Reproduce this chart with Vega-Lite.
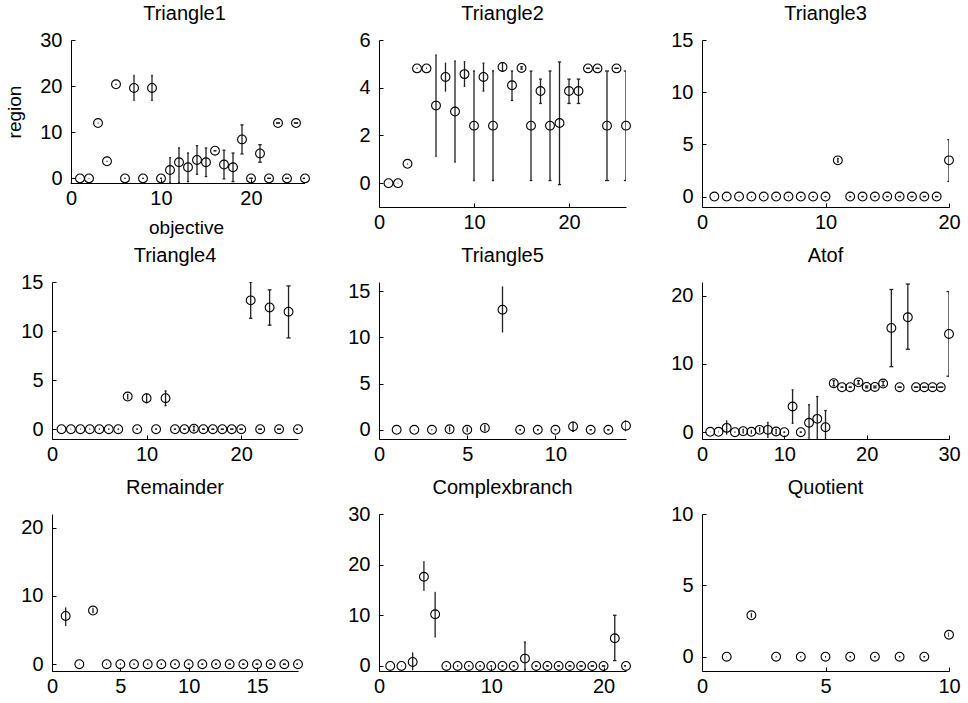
{
  "$schema": "https://vega.github.io/schema/vega-lite/v6.json",
  "padding": {"left": 5, "top": 4, "right": 2, "bottom": 2},
  "background": "white",
  "config": {
    "font": "Liberation Sans",
    "view": {"stroke": null},
    "axis": {"grid": false, "domainColor": "black", "domainWidth": 1, "tickColor": "black", "tickSize": -4, "tickWidth": 1,
             "labelFontSize": 20, "labelColor": "black", "labelFont": "Liberation Sans", "labelFlush": false, "labelOverlap": false,
             "titleFontSize": 19, "titleFontWeight": "normal", "titleColor": "black", "titleFont": "Liberation Sans"},
    "axisY": {"labelPadding": 13, "minExtent": 47, "maxExtent": 47},
    "axisX": {"labelPadding": 9, "minExtent": 30, "maxExtent": 30},
    "title": {"fontSize": 20, "fontWeight": "normal", "baseline": "alphabetic", "color": "black", "frame": "group", "font": "Liberation Sans"}
  },
  "datasets": {
    "t1": [
      {"x":1,"y":0,"lo":0,"hi":0},{"x":2,"y":0,"lo":0,"hi":0},{"x":3,"y":12,"lo":12,"hi":12},{"x":4,"y":3.7,"lo":3.7,"hi":3.7},
      {"x":5,"y":20.4,"lo":20.4,"hi":20.4},{"x":6,"y":0,"lo":0,"hi":0},{"x":7,"y":19.6,"lo":16.9,"hi":22.3},{"x":8,"y":0,"lo":0,"hi":0},
      {"x":9,"y":19.6,"lo":16.9,"hi":22.3},{"x":10,"y":0,"lo":0,"hi":0},{"x":11,"y":1.8,"lo":-1,"hi":4.5},{"x":12,"y":3.5,"lo":-0.9,"hi":6.6},
      {"x":13,"y":2.4,"lo":-0.7,"hi":5.5},{"x":14,"y":4.0,"lo":0.9,"hi":7.1},{"x":15,"y":3.5,"lo":0.4,"hi":6.6},{"x":16,"y":6.0,"lo":6,"hi":6},
      {"x":17,"y":3.0,"lo":-0.1,"hi":6.1},{"x":18,"y":2.4,"lo":-0.7,"hi":5.5},{"x":19,"y":8.45,"lo":5.3,"hi":11.6},{"x":20,"y":0,"lo":0,"hi":0},
      {"x":21,"y":5.4,"lo":3.5,"hi":7.3},{"x":22,"y":0,"lo":0,"hi":0},{"x":23,"y":12,"lo":12,"hi":12},{"x":24,"y":0,"lo":0,"hi":0},
      {"x":25,"y":12,"lo":12,"hi":12},{"x":26,"y":0,"lo":0,"hi":0}
    ],
    "t2": [
      {"x":1,"y":0,"lo":0,"hi":0},{"x":2,"y":0,"lo":0,"hi":0},{"x":3,"y":0.81,"lo":0.81,"hi":0.81},{"x":4,"y":4.81,"lo":4.81,"hi":4.81},
      {"x":5,"y":4.81,"lo":4.81,"hi":4.81},{"x":6,"y":3.25,"lo":1.12,"hi":5.38},{"x":7,"y":4.45,"lo":3.86,"hi":5.03},{"x":8,"y":3.0,"lo":0.88,"hi":5.12},
      {"x":9,"y":4.57,"lo":4.06,"hi":5.09},{"x":10,"y":2.41,"lo":0.11,"hi":4.7},{"x":11,"y":4.45,"lo":3.86,"hi":5.03},{"x":12,"y":2.41,"lo":0.11,"hi":4.7},
      {"x":13,"y":4.87,"lo":4.69,"hi":5.05},{"x":14,"y":4.1,"lo":3.47,"hi":4.7},{"x":15,"y":4.83,"lo":4.78,"hi":4.88},{"x":16,"y":2.41,"lo":0.11,"hi":4.7},
      {"x":17,"y":3.86,"lo":3.34,"hi":4.36},{"x":18,"y":2.41,"lo":0.11,"hi":4.7},{"x":19,"y":2.52,"lo":-0.06,"hi":5.08},{"x":20,"y":3.86,"lo":3.34,"hi":4.36},
      {"x":21,"y":3.86,"lo":3.34,"hi":4.36},{"x":22,"y":4.81,"lo":4.81,"hi":4.81},{"x":23,"y":4.81,"lo":4.81,"hi":4.81},{"x":24,"y":2.41,"lo":0.11,"hi":4.7},
      {"x":25,"y":4.81,"lo":4.81,"hi":4.81},{"x":26,"y":2.41,"lo":0.11,"hi":4.7}
    ],
    "t3": [
      {"x":1,"y":0,"lo":0,"hi":0},{"x":2,"y":0,"lo":0,"hi":0},{"x":3,"y":0,"lo":0,"hi":0},{"x":4,"y":0,"lo":0,"hi":0},{"x":5,"y":0,"lo":0,"hi":0},
      {"x":6,"y":0,"lo":0,"hi":0},{"x":7,"y":0,"lo":0,"hi":0},{"x":8,"y":0,"lo":0,"hi":0},{"x":9,"y":0,"lo":0,"hi":0},{"x":10,"y":0,"lo":0,"hi":0},
      {"x":11,"y":3.47,"lo":3.3,"hi":3.65},{"x":12,"y":0,"lo":0,"hi":0},{"x":13,"y":0,"lo":0,"hi":0},{"x":14,"y":0,"lo":0,"hi":0},{"x":15,"y":0,"lo":0,"hi":0},
      {"x":16,"y":0,"lo":0,"hi":0},{"x":17,"y":0,"lo":0,"hi":0},{"x":18,"y":0,"lo":0,"hi":0},{"x":19,"y":0,"lo":0,"hi":0},{"x":20,"y":3.47,"lo":1.45,"hi":5.45}
    ],
    "t4": [
      {"x":1,"y":0,"lo":0,"hi":0},{"x":2,"y":0,"lo":0,"hi":0},{"x":3,"y":0,"lo":0,"hi":0},{"x":4,"y":0,"lo":0,"hi":0},{"x":5,"y":0,"lo":0,"hi":0},
      {"x":6,"y":0,"lo":0,"hi":0},{"x":7,"y":0,"lo":0,"hi":0},{"x":8,"y":3.33,"lo":3.1,"hi":3.55},{"x":9,"y":0,"lo":0,"hi":0},{"x":10,"y":3.16,"lo":2.7,"hi":3.6},
      {"x":11,"y":0,"lo":0,"hi":0},{"x":12,"y":3.16,"lo":2.4,"hi":3.9},{"x":13,"y":0,"lo":0,"hi":0},{"x":14,"y":0,"lo":0,"hi":0},{"x":15,"y":0.05,"lo":-0.15,"hi":0.3},
      {"x":16,"y":0,"lo":0,"hi":0},{"x":17,"y":0,"lo":0,"hi":0},{"x":18,"y":0,"lo":0,"hi":0},{"x":19,"y":0,"lo":0,"hi":0},{"x":20,"y":0,"lo":0,"hi":0},
      {"x":21,"y":13.13,"lo":11.3,"hi":15.0},{"x":22,"y":0,"lo":0,"hi":0},{"x":23,"y":12.41,"lo":10.6,"hi":14.2},{"x":24,"y":0,"lo":0,"hi":0},
      {"x":25,"y":11.97,"lo":9.3,"hi":14.6},{"x":26,"y":0,"lo":0,"hi":0}
    ],
    "t5": [
      {"x":1,"y":0,"lo":0,"hi":0},{"x":2,"y":0,"lo":0,"hi":0},{"x":3,"y":0,"lo":0,"hi":0},{"x":4,"y":0.05,"lo":-0.2,"hi":0.3},{"x":5,"y":0,"lo":-0.2,"hi":0.25},
      {"x":6,"y":0.2,"lo":-0.1,"hi":0.5},{"x":7,"y":13.0,"lo":10.6,"hi":15.45},{"x":8,"y":0,"lo":0,"hi":0},{"x":9,"y":0,"lo":0,"hi":0},{"x":10,"y":0,"lo":0,"hi":0},
      {"x":11,"y":0.36,"lo":-0.18,"hi":0.8},{"x":12,"y":0,"lo":0,"hi":0},{"x":13,"y":0,"lo":0,"hi":0},{"x":14,"y":0.44,"lo":-0.1,"hi":0.95}
    ],
    "atof": [
      {"x":1,"y":0.05,"lo":0.05,"hi":0.05},{"x":2,"y":0.05,"lo":0.05,"hi":0.05},{"x":3,"y":0.63,"lo":-0.35,"hi":1.7},{"x":4,"y":0,"lo":0,"hi":0},
      {"x":5,"y":0.15,"lo":-0.15,"hi":0.45},{"x":6,"y":0.05,"lo":-0.15,"hi":0.25},{"x":7,"y":0.34,"lo":0.05,"hi":0.65},{"x":8,"y":0.34,"lo":-0.75,"hi":1.45},
      {"x":9,"y":0.1,"lo":-0.2,"hi":0.4},{"x":10,"y":0,"lo":0,"hi":0},{"x":11,"y":3.76,"lo":1.3,"hi":6.2},{"x":12,"y":0,"lo":0,"hi":0},
      {"x":13,"y":1.37,"lo":-1.2,"hi":4.0},{"x":14,"y":1.95,"lo":-1.3,"hi":5.22},{"x":15,"y":0.73,"lo":-1.7,"hi":3.17},{"x":16,"y":7.17,"lo":6.8,"hi":7.55},
      {"x":17,"y":6.59,"lo":6.59,"hi":6.59},{"x":18,"y":6.59,"lo":6.59,"hi":6.59},{"x":19,"y":7.3,"lo":7.05,"hi":7.55},{"x":20,"y":6.63,"lo":6.5,"hi":6.76},
      {"x":21,"y":6.63,"lo":6.5,"hi":6.76},{"x":22,"y":7.12,"lo":6.8,"hi":7.45},{"x":23,"y":15.27,"lo":9.6,"hi":20.9},{"x":24,"y":6.59,"lo":6.59,"hi":6.59},
      {"x":25,"y":16.83,"lo":12.15,"hi":21.7},{"x":26,"y":6.59,"lo":6.59,"hi":6.59},{"x":27,"y":6.59,"lo":6.59,"hi":6.59},{"x":28,"y":6.59,"lo":6.59,"hi":6.59},
      {"x":29,"y":6.59,"lo":6.59,"hi":6.59},{"x":30,"y":14.39,"lo":8.2,"hi":20.6}
    ],
    "rem": [
      {"x":1,"y":7.07,"lo":5.6,"hi":8.3},{"x":2,"y":0,"lo":0,"hi":0},{"x":3,"y":7.85,"lo":7.5,"hi":8.2},{"x":4,"y":0,"lo":0,"hi":0},{"x":5,"y":0,"lo":0,"hi":0},
      {"x":6,"y":0,"lo":0,"hi":0},{"x":7,"y":0,"lo":0,"hi":0},{"x":8,"y":0,"lo":0,"hi":0},{"x":9,"y":0,"lo":0,"hi":0},{"x":10,"y":0,"lo":0,"hi":0},
      {"x":11,"y":0,"lo":0,"hi":0},{"x":12,"y":0,"lo":0,"hi":0},{"x":13,"y":0,"lo":0,"hi":0},{"x":14,"y":0,"lo":0,"hi":0},{"x":15,"y":0,"lo":0,"hi":0},
      {"x":16,"y":0,"lo":0,"hi":0},{"x":17,"y":0,"lo":0,"hi":0},{"x":18,"y":0,"lo":0,"hi":0}
    ],
    "cb": [
      {"x":1,"y":0,"lo":0,"hi":0},{"x":2,"y":0,"lo":0,"hi":0},{"x":3,"y":0.79,"lo":-0.8,"hi":2.6},{"x":4,"y":17.6,"lo":14.9,"hi":20.6},
      {"x":5,"y":10.2,"lo":5.7,"hi":14.5},{"x":6,"y":0,"lo":0,"hi":0},{"x":7,"y":0,"lo":0,"hi":0},{"x":8,"y":0,"lo":0,"hi":0},{"x":9,"y":0,"lo":0,"hi":0},
      {"x":10,"y":0,"lo":0,"hi":0},{"x":11,"y":0,"lo":0,"hi":0},{"x":12,"y":0,"lo":0,"hi":0},{"x":13,"y":1.45,"lo":-0.8,"hi":4.7},{"x":14,"y":0,"lo":0,"hi":0},
      {"x":15,"y":0,"lo":0,"hi":0},{"x":16,"y":0,"lo":0,"hi":0},{"x":17,"y":0,"lo":0,"hi":0},{"x":18,"y":0,"lo":0,"hi":0},{"x":19,"y":0,"lo":0,"hi":0},
      {"x":20,"y":0,"lo":0,"hi":0},{"x":21,"y":5.46,"lo":1.05,"hi":10.0},{"x":22,"y":0,"lo":0,"hi":0}
    ],
    "quo": [
      {"x":1,"y":0,"lo":0,"hi":0},{"x":2,"y":2.9,"lo":2.75,"hi":3.05},{"x":3,"y":0,"lo":0,"hi":0},{"x":4,"y":0,"lo":0,"hi":0},{"x":5,"y":0,"lo":0,"hi":0},
      {"x":6,"y":0,"lo":0,"hi":0},{"x":7,"y":0,"lo":0,"hi":0},{"x":8,"y":0,"lo":0,"hi":0},{"x":9,"y":0,"lo":0,"hi":0},{"x":10,"y":1.54,"lo":1.45,"hi":1.65}
    ]
  },
  "columns": 3,
  "spacing": {"row": 9, "column": 20},
  "align": "each",
  "concat": [
    {
      "title": {"text": "Triangle1", "offset": 6, "dx": 6},
      "width": 253, "height": 143,
      "data": {"name": "t1"},
      "encoding": {"x": {"field": "x", "type": "quantitative", "scale": {"domain": [-2.111, 26], "nice": false, "zero": false}, "axis": {"values": [0, 10, 20], "title": "objective", "domain": false, "titleX": 134, "minExtent": 26, "maxExtent": 26, "titlePadding": 9}}},
      "layer": [
        {"mark": {"type": "rule", "color": "black", "strokeWidth": 1, "yOffset": 0.5},
         "encoding": {"x": {"datum": 0, "type": "quantitative", "scale": {"domain": [-2.111, 26], "nice": false, "zero": false}, "axis": {"values": [0, 10, 20], "title": "objective", "domain": false, "titleX": 134, "minExtent": 26, "maxExtent": 26, "titlePadding": 9}},
                      "x2": {"datum": 26},
                      "y": {"datum": -1, "type": "quantitative", "scale": {"domain": [-1, 30], "nice": false, "zero": false}, "axis": {"values": [0, 10, 20, 30], "title": "region", "offset": -19, "minExtent": 36, "maxExtent": 36, "titlePadding": 11}}}},
        {"mark": {"type": "rule", "clip": true, "color": "#222", "strokeWidth": 1.3},
         "encoding": {"y": {"field": "lo", "type": "quantitative", "scale": {"domain": [-1, 30], "nice": false, "zero": false}, "axis": {"values": [0, 10, 20, 30], "title": "region", "offset": -19, "minExtent": 36, "maxExtent": 36, "titlePadding": 11}}, "y2": {"field": "hi"}}},
        {"mark": {"type": "tick", "orient": "horizontal", "clip": true, "color": "#222", "thickness": 1.3, "opacity": 1},
         "encoding": {"y": {"field": "lo", "type": "quantitative", "scale": {"domain": [-1, 30], "nice": false, "zero": false}, "axis": {"values": [0, 10, 20, 30], "title": "region", "offset": -19, "minExtent": 36, "maxExtent": 36, "titlePadding": 11}},
                      "size": {"field": "x", "type": "quantitative", "scale": {"domain": [0, 26], "range": [0, 5]}, "legend": null}}},
        {"mark": {"type": "tick", "orient": "horizontal", "clip": true, "color": "#222", "thickness": 1.3, "opacity": 1},
         "encoding": {"y": {"field": "hi", "type": "quantitative", "scale": {"domain": [-1, 30], "nice": false, "zero": false}, "axis": {"values": [0, 10, 20, 30], "title": "region", "offset": -19, "minExtent": 36, "maxExtent": 36, "titlePadding": 11}},
                      "size": {"field": "x", "type": "quantitative", "scale": {"domain": [0, 26], "range": [0, 5]}, "legend": null}}},
        {"mark": {"type": "point", "shape": "circle", "filled": false, "size": 78, "color": "black", "strokeWidth": 1.1, "opacity": 1},
         "encoding": {"y": {"field": "y", "type": "quantitative", "scale": {"domain": [-1, 30], "nice": false, "zero": false}, "axis": {"values": [0, 10, 20, 30], "title": "region", "offset": -19, "minExtent": 36, "maxExtent": 36, "titlePadding": 11}}}}
      ]
    },
    {
      "title": {"text": "Triangle2", "offset": 6},
      "width": 247, "height": 167,
      "data": {"name": "t2"},
      "encoding": {"x": {"field": "x", "type": "quantitative", "scale": {"domain": [0, 26], "nice": false, "zero": false}, "axis": {"values": [0, 10, 20], "title": null}}},
      "layer": [
        {"mark": {"type": "rule", "clip": true, "color": "#222", "strokeWidth": 1.3},
         "encoding": {"y": {"field": "lo", "type": "quantitative", "scale": {"domain": [-1, 6], "nice": false, "zero": false}, "axis": {"values": [0, 2, 4, 6], "title": null}}, "y2": {"field": "hi"}}},
        {"mark": {"type": "tick", "orient": "horizontal", "clip": true, "color": "#222", "thickness": 1.3, "opacity": 1},
         "encoding": {"y": {"field": "lo", "type": "quantitative", "scale": {"domain": [-1, 6], "nice": false, "zero": false}, "axis": {"values": [0, 2, 4, 6], "title": null}},
                      "size": {"field": "x", "type": "quantitative", "scale": {"domain": [0, 26], "range": [0, 5]}, "legend": null}}},
        {"mark": {"type": "tick", "orient": "horizontal", "clip": true, "color": "#222", "thickness": 1.3, "opacity": 1},
         "encoding": {"y": {"field": "hi", "type": "quantitative", "scale": {"domain": [-1, 6], "nice": false, "zero": false}, "axis": {"values": [0, 2, 4, 6], "title": null}},
                      "size": {"field": "x", "type": "quantitative", "scale": {"domain": [0, 26], "range": [0, 5]}, "legend": null}}},
        {"mark": {"type": "point", "shape": "circle", "filled": false, "size": 78, "color": "black", "strokeWidth": 1.1, "opacity": 1},
         "encoding": {"y": {"field": "y", "type": "quantitative", "scale": {"domain": [-1, 6], "nice": false, "zero": false}, "axis": {"values": [0, 2, 4, 6], "title": null}}}}
      ]
    },
    {
      "title": {"text": "Triangle3", "offset": 6},
      "width": 247, "height": 167,
      "data": {"name": "t3"},
      "encoding": {"x": {"field": "x", "type": "quantitative", "scale": {"domain": [0, 20], "nice": false, "zero": false}, "axis": {"values": [0, 10, 20], "title": null}}},
      "layer": [
        {"mark": {"type": "rule", "clip": true, "color": "#222", "strokeWidth": 1.3},
         "encoding": {"y": {"field": "lo", "type": "quantitative", "scale": {"domain": [-1, 15], "nice": false, "zero": false}, "axis": {"values": [0, 5, 10, 15], "title": null, "minExtent": 49, "maxExtent": 49}}, "y2": {"field": "hi"}}},
        {"mark": {"type": "tick", "orient": "horizontal", "clip": true, "color": "#222", "thickness": 1.3, "opacity": 1},
         "encoding": {"y": {"field": "lo", "type": "quantitative", "scale": {"domain": [-1, 15], "nice": false, "zero": false}, "axis": {"values": [0, 5, 10, 15], "title": null, "minExtent": 49, "maxExtent": 49}},
                      "size": {"field": "x", "type": "quantitative", "scale": {"domain": [0, 20], "range": [0, 5]}, "legend": null}}},
        {"mark": {"type": "tick", "orient": "horizontal", "clip": true, "color": "#222", "thickness": 1.3, "opacity": 1},
         "encoding": {"y": {"field": "hi", "type": "quantitative", "scale": {"domain": [-1, 15], "nice": false, "zero": false}, "axis": {"values": [0, 5, 10, 15], "title": null, "minExtent": 49, "maxExtent": 49}},
                      "size": {"field": "x", "type": "quantitative", "scale": {"domain": [0, 20], "range": [0, 5]}, "legend": null}}},
        {"mark": {"type": "point", "shape": "circle", "filled": false, "size": 78, "color": "black", "strokeWidth": 1.1, "opacity": 1},
         "encoding": {"y": {"field": "y", "type": "quantitative", "scale": {"domain": [-1, 15], "nice": false, "zero": false}, "axis": {"values": [0, 5, 10, 15], "title": null, "minExtent": 49, "maxExtent": 49}}}}
      ]
    },
    {
      "title": {"text": "Triangle4", "offset": 6},
      "width": 246, "height": 157,
      "data": {"name": "t4"},
      "encoding": {"x": {"field": "x", "type": "quantitative", "scale": {"domain": [0, 26], "nice": false, "zero": false}, "axis": {"values": [0, 10, 20], "title": null}}},
      "layer": [
        {"mark": {"type": "rule", "clip": true, "color": "#222", "strokeWidth": 1.3},
         "encoding": {"y": {"field": "lo", "type": "quantitative", "scale": {"domain": [-1, 15], "nice": false, "zero": false}, "axis": {"values": [0, 5, 10, 15], "title": null}}, "y2": {"field": "hi"}}},
        {"mark": {"type": "tick", "orient": "horizontal", "clip": true, "color": "#222", "thickness": 1.3, "opacity": 1},
         "encoding": {"y": {"field": "lo", "type": "quantitative", "scale": {"domain": [-1, 15], "nice": false, "zero": false}, "axis": {"values": [0, 5, 10, 15], "title": null}},
                      "size": {"field": "x", "type": "quantitative", "scale": {"domain": [0, 26], "range": [0, 5]}, "legend": null}}},
        {"mark": {"type": "tick", "orient": "horizontal", "clip": true, "color": "#222", "thickness": 1.3, "opacity": 1},
         "encoding": {"y": {"field": "hi", "type": "quantitative", "scale": {"domain": [-1, 15], "nice": false, "zero": false}, "axis": {"values": [0, 5, 10, 15], "title": null}},
                      "size": {"field": "x", "type": "quantitative", "scale": {"domain": [0, 26], "range": [0, 5]}, "legend": null}}},
        {"mark": {"type": "point", "shape": "circle", "filled": false, "size": 78, "color": "black", "strokeWidth": 1.1, "opacity": 1},
         "encoding": {"y": {"field": "y", "type": "quantitative", "scale": {"domain": [-1, 15], "nice": false, "zero": false}, "axis": {"values": [0, 5, 10, 15], "title": null}}}}
      ]
    },
    {
      "title": {"text": "Triangle5", "offset": 15},
      "width": 247, "height": 157,
      "data": {"name": "t5"},
      "encoding": {"x": {"field": "x", "type": "quantitative", "scale": {"domain": [0, 14], "nice": false, "zero": false}, "axis": {"values": [0, 5, 10], "title": null}}},
      "layer": [
        {"mark": {"type": "rule", "clip": true, "color": "#222", "strokeWidth": 1.3},
         "encoding": {"y": {"field": "lo", "type": "quantitative", "scale": {"domain": [-1, 16], "nice": false, "zero": false}, "axis": {"values": [0, 5, 10, 15], "title": null}}, "y2": {"field": "hi"}}},
        {"mark": {"type": "tick", "orient": "horizontal", "clip": true, "color": "#222", "thickness": 1.3, "opacity": 1},
         "encoding": {"y": {"field": "lo", "type": "quantitative", "scale": {"domain": [-1, 16], "nice": false, "zero": false}, "axis": {"values": [0, 5, 10, 15], "title": null}},
                      "size": {"field": "x", "type": "quantitative", "scale": {"domain": [0, 14], "range": [0, 5]}, "legend": null}}},
        {"mark": {"type": "tick", "orient": "horizontal", "clip": true, "color": "#222", "thickness": 1.3, "opacity": 1},
         "encoding": {"y": {"field": "hi", "type": "quantitative", "scale": {"domain": [-1, 16], "nice": false, "zero": false}, "axis": {"values": [0, 5, 10, 15], "title": null}},
                      "size": {"field": "x", "type": "quantitative", "scale": {"domain": [0, 14], "range": [0, 5]}, "legend": null}}},
        {"mark": {"type": "point", "shape": "circle", "filled": false, "size": 78, "color": "black", "strokeWidth": 1.1, "opacity": 1},
         "encoding": {"y": {"field": "y", "type": "quantitative", "scale": {"domain": [-1, 16], "nice": false, "zero": false}, "axis": {"values": [0, 5, 10, 15], "title": null}}}}
      ]
    },
    {
      "title": {"text": "Atof", "offset": 16},
      "width": 247, "height": 157,
      "data": {"name": "atof"},
      "encoding": {"x": {"field": "x", "type": "quantitative", "scale": {"domain": [0, 30], "nice": false, "zero": false}, "axis": {"values": [0, 10, 20, 30], "title": null}}},
      "layer": [
        {"mark": {"type": "rule", "clip": true, "color": "#222", "strokeWidth": 1.3},
         "encoding": {"y": {"field": "lo", "type": "quantitative", "scale": {"domain": [-1, 22], "nice": false, "zero": false}, "axis": {"values": [0, 10, 20], "title": null, "minExtent": 49, "maxExtent": 49}}, "y2": {"field": "hi"}}},
        {"mark": {"type": "tick", "orient": "horizontal", "clip": true, "color": "#222", "thickness": 1.3, "opacity": 1},
         "encoding": {"y": {"field": "lo", "type": "quantitative", "scale": {"domain": [-1, 22], "nice": false, "zero": false}, "axis": {"values": [0, 10, 20], "title": null, "minExtent": 49, "maxExtent": 49}},
                      "size": {"field": "x", "type": "quantitative", "scale": {"domain": [0, 30], "range": [0, 5]}, "legend": null}}},
        {"mark": {"type": "tick", "orient": "horizontal", "clip": true, "color": "#222", "thickness": 1.3, "opacity": 1},
         "encoding": {"y": {"field": "hi", "type": "quantitative", "scale": {"domain": [-1, 22], "nice": false, "zero": false}, "axis": {"values": [0, 10, 20], "title": null, "minExtent": 49, "maxExtent": 49}},
                      "size": {"field": "x", "type": "quantitative", "scale": {"domain": [0, 30], "range": [0, 5]}, "legend": null}}},
        {"mark": {"type": "point", "shape": "circle", "filled": false, "size": 78, "color": "black", "strokeWidth": 1.1, "opacity": 1},
         "encoding": {"y": {"field": "y", "type": "quantitative", "scale": {"domain": [-1, 22], "nice": false, "zero": false}, "axis": {"values": [0, 10, 20], "title": null, "minExtent": 49, "maxExtent": 49}}}}
      ]
    },
    {
      "title": {"text": "Remainder", "offset": 16},
      "width": 246, "height": 157,
      "data": {"name": "rem"},
      "encoding": {"x": {"field": "x", "type": "quantitative", "scale": {"domain": [0, 18], "nice": false, "zero": false}, "axis": {"values": [0, 5, 10, 15], "title": null}}},
      "layer": [
        {"mark": {"type": "rule", "clip": true, "color": "#222", "strokeWidth": 1.3},
         "encoding": {"y": {"field": "lo", "type": "quantitative", "scale": {"domain": [-1, 22], "nice": false, "zero": false}, "axis": {"values": [0, 10, 20], "title": null}}, "y2": {"field": "hi"}}},
        {"mark": {"type": "tick", "orient": "horizontal", "clip": true, "color": "#222", "thickness": 1.3, "opacity": 1},
         "encoding": {"y": {"field": "lo", "type": "quantitative", "scale": {"domain": [-1, 22], "nice": false, "zero": false}, "axis": {"values": [0, 10, 20], "title": null}},
                      "size": {"field": "x", "type": "quantitative", "scale": {"domain": [0, 18], "range": [0, 5]}, "legend": null}}},
        {"mark": {"type": "tick", "orient": "horizontal", "clip": true, "color": "#222", "thickness": 1.3, "opacity": 1},
         "encoding": {"y": {"field": "hi", "type": "quantitative", "scale": {"domain": [-1, 22], "nice": false, "zero": false}, "axis": {"values": [0, 10, 20], "title": null}},
                      "size": {"field": "x", "type": "quantitative", "scale": {"domain": [0, 18], "range": [0, 5]}, "legend": null}}},
        {"mark": {"type": "point", "shape": "circle", "filled": false, "size": 78, "color": "black", "strokeWidth": 1.1, "opacity": 1},
         "encoding": {"y": {"field": "y", "type": "quantitative", "scale": {"domain": [-1, 22], "nice": false, "zero": false}, "axis": {"values": [0, 10, 20], "title": null}}}}
      ]
    },
    {
      "title": {"text": "Complexbranch", "offset": 6},
      "width": 247, "height": 157,
      "data": {"name": "cb"},
      "encoding": {"x": {"field": "x", "type": "quantitative", "scale": {"domain": [0, 22], "nice": false, "zero": false}, "axis": {"values": [0, 10, 20], "title": null}}},
      "layer": [
        {"mark": {"type": "rule", "clip": true, "color": "#222", "strokeWidth": 1.3},
         "encoding": {"y": {"field": "lo", "type": "quantitative", "scale": {"domain": [-1, 30], "nice": false, "zero": false}, "axis": {"values": [0, 10, 20, 30], "title": null}}, "y2": {"field": "hi"}}},
        {"mark": {"type": "tick", "orient": "horizontal", "clip": true, "color": "#222", "thickness": 1.3, "opacity": 1},
         "encoding": {"y": {"field": "lo", "type": "quantitative", "scale": {"domain": [-1, 30], "nice": false, "zero": false}, "axis": {"values": [0, 10, 20, 30], "title": null}},
                      "size": {"field": "x", "type": "quantitative", "scale": {"domain": [0, 22], "range": [0, 5]}, "legend": null}}},
        {"mark": {"type": "tick", "orient": "horizontal", "clip": true, "color": "#222", "thickness": 1.3, "opacity": 1},
         "encoding": {"y": {"field": "hi", "type": "quantitative", "scale": {"domain": [-1, 30], "nice": false, "zero": false}, "axis": {"values": [0, 10, 20, 30], "title": null}},
                      "size": {"field": "x", "type": "quantitative", "scale": {"domain": [0, 22], "range": [0, 5]}, "legend": null}}},
        {"mark": {"type": "point", "shape": "circle", "filled": false, "size": 78, "color": "black", "strokeWidth": 1.1, "opacity": 1},
         "encoding": {"y": {"field": "y", "type": "quantitative", "scale": {"domain": [-1, 30], "nice": false, "zero": false}, "axis": {"values": [0, 10, 20, 30], "title": null}}}}
      ]
    },
    {
      "title": {"text": "Quotient", "offset": 6},
      "width": 247, "height": 157,
      "data": {"name": "quo"},
      "encoding": {"x": {"field": "x", "type": "quantitative", "scale": {"domain": [0, 10], "nice": false, "zero": false}, "axis": {"values": [0, 5, 10], "title": null}}},
      "layer": [
        {"mark": {"type": "rule", "clip": true, "color": "#222", "strokeWidth": 1.3},
         "encoding": {"y": {"field": "lo", "type": "quantitative", "scale": {"domain": [-1, 10], "nice": false, "zero": false}, "axis": {"values": [0, 5, 10], "title": null, "minExtent": 49, "maxExtent": 49}}, "y2": {"field": "hi"}}},
        {"mark": {"type": "tick", "orient": "horizontal", "clip": true, "color": "#222", "thickness": 1.3, "opacity": 1},
         "encoding": {"y": {"field": "lo", "type": "quantitative", "scale": {"domain": [-1, 10], "nice": false, "zero": false}, "axis": {"values": [0, 5, 10], "title": null, "minExtent": 49, "maxExtent": 49}},
                      "size": {"field": "x", "type": "quantitative", "scale": {"domain": [0, 10], "range": [0, 5]}, "legend": null}}},
        {"mark": {"type": "tick", "orient": "horizontal", "clip": true, "color": "#222", "thickness": 1.3, "opacity": 1},
         "encoding": {"y": {"field": "hi", "type": "quantitative", "scale": {"domain": [-1, 10], "nice": false, "zero": false}, "axis": {"values": [0, 5, 10], "title": null, "minExtent": 49, "maxExtent": 49}},
                      "size": {"field": "x", "type": "quantitative", "scale": {"domain": [0, 10], "range": [0, 5]}, "legend": null}}},
        {"mark": {"type": "point", "shape": "circle", "filled": false, "size": 78, "color": "black", "strokeWidth": 1.1, "opacity": 1},
         "encoding": {"y": {"field": "y", "type": "quantitative", "scale": {"domain": [-1, 10], "nice": false, "zero": false}, "axis": {"values": [0, 5, 10], "title": null, "minExtent": 49, "maxExtent": 49}}}}
      ]
    }
  ]
}
